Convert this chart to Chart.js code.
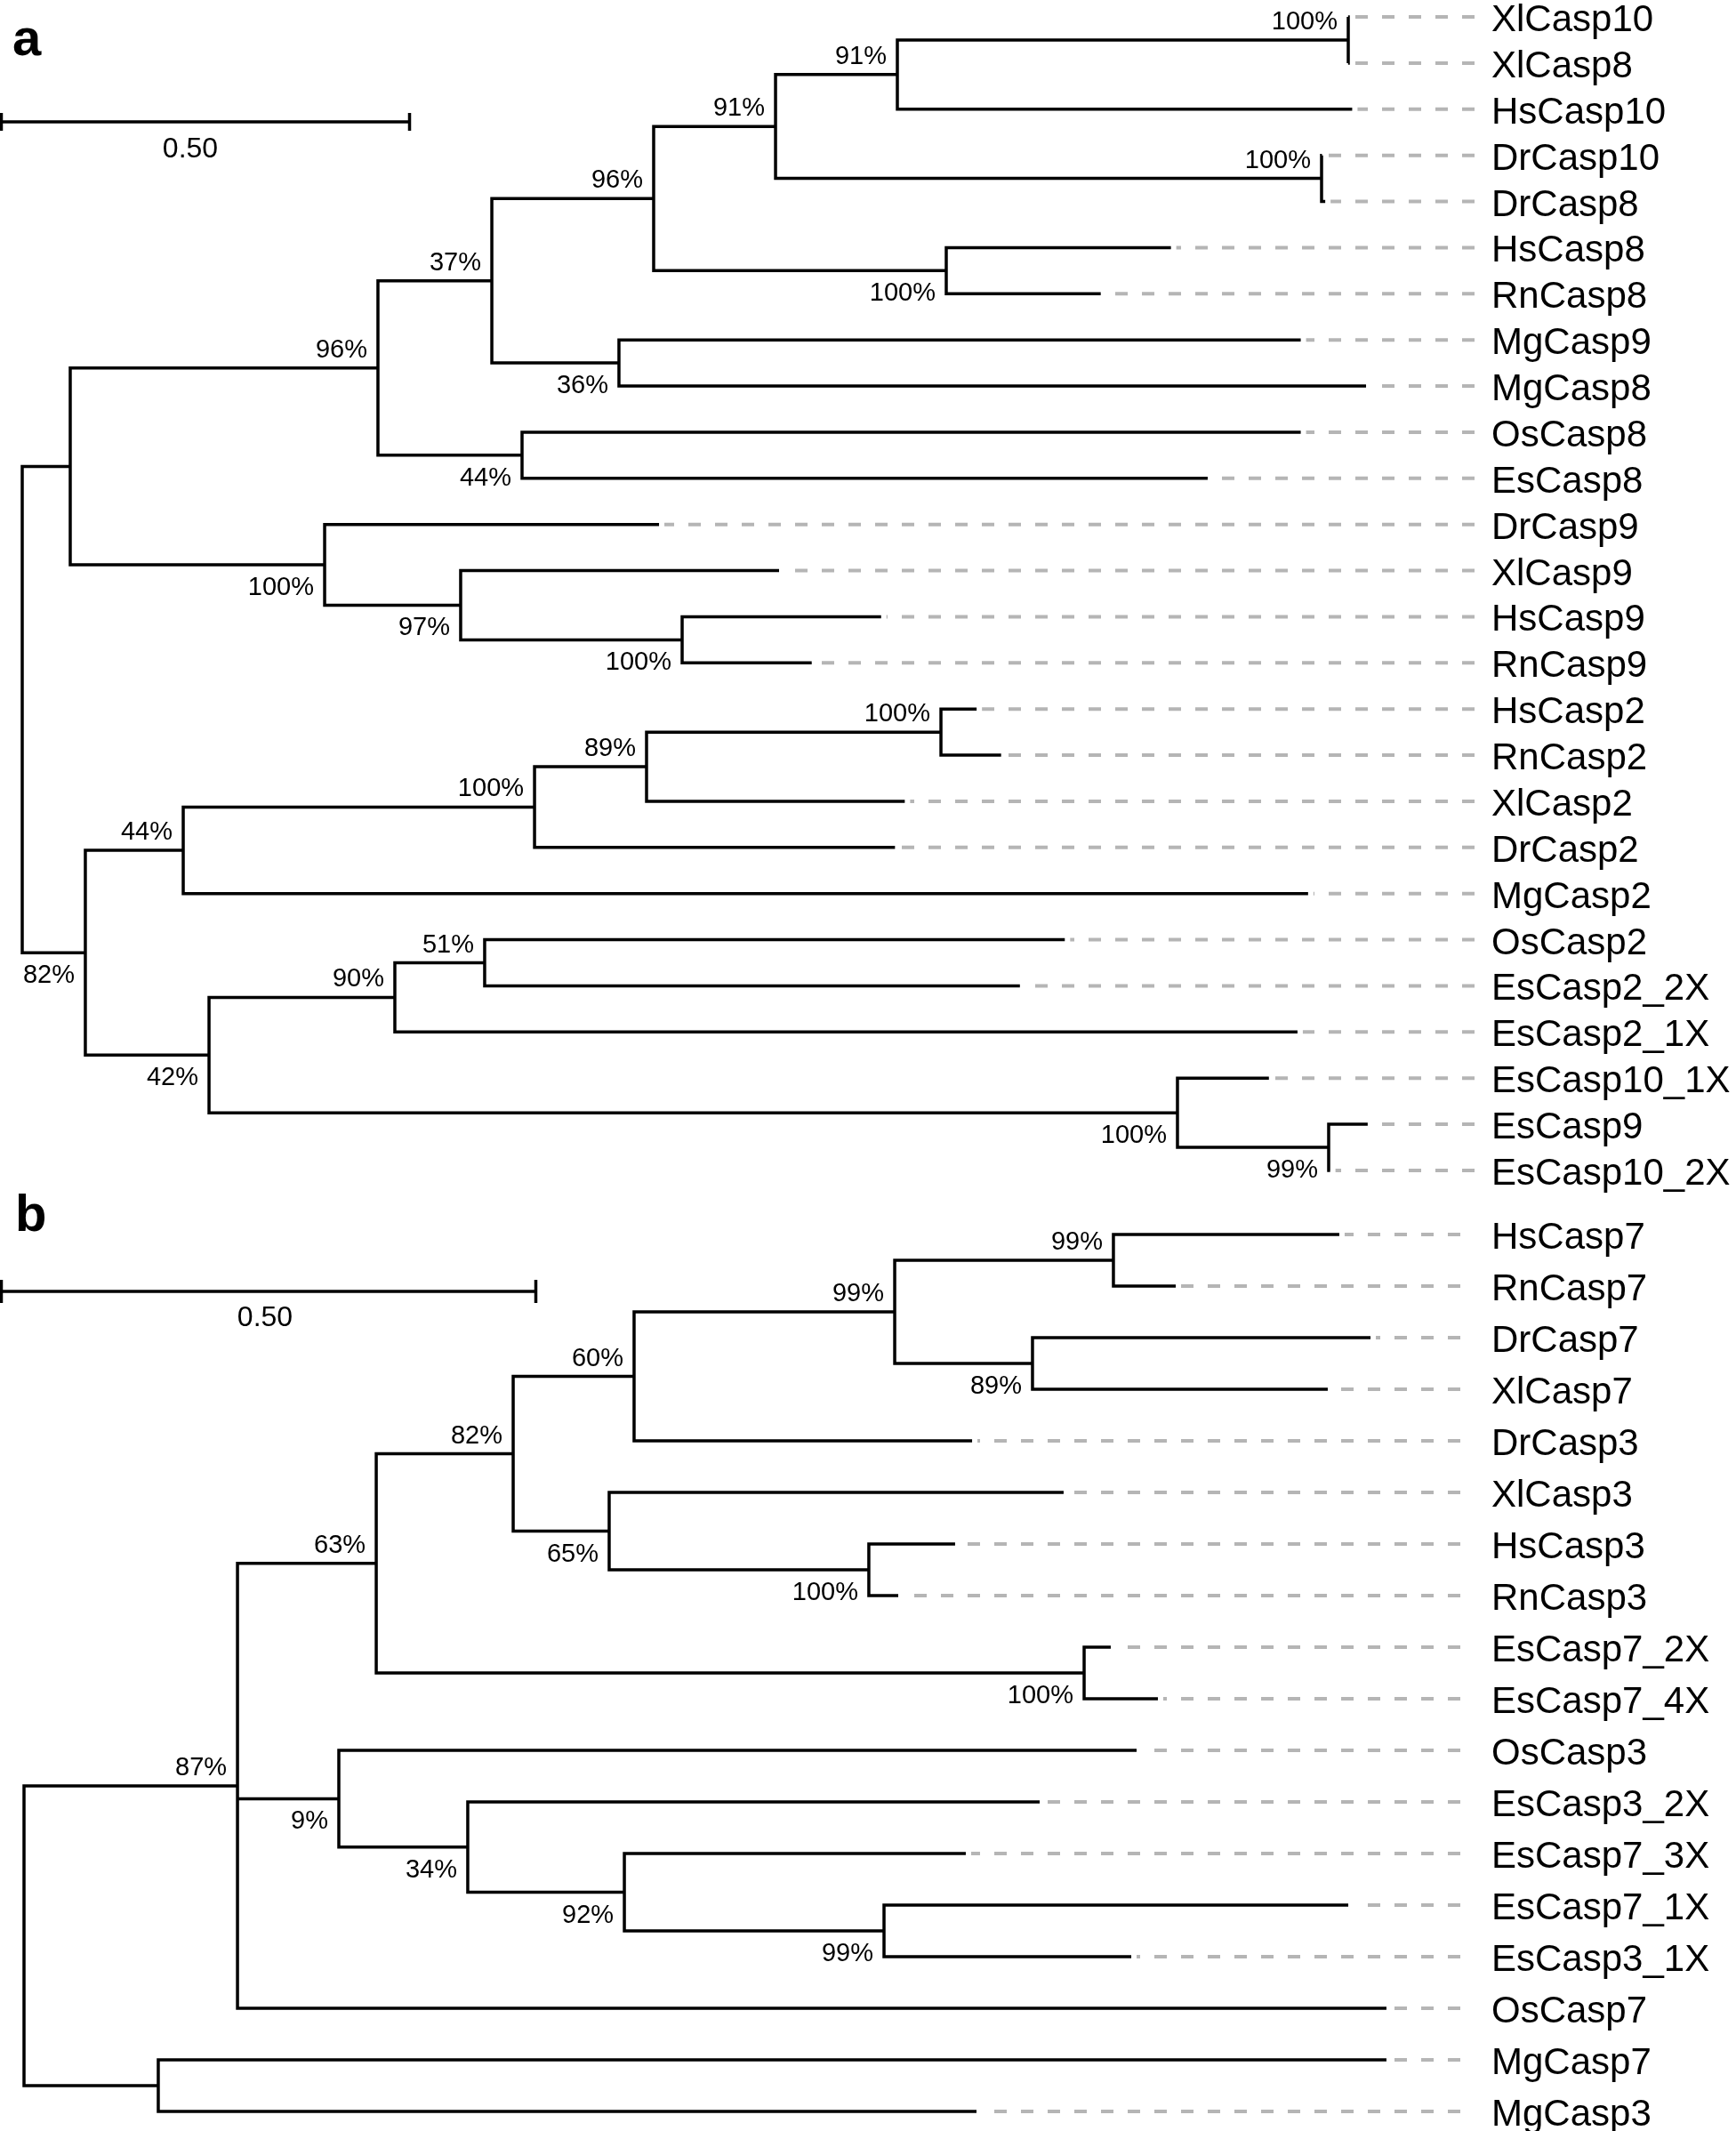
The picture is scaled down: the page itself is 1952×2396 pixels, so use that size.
<!DOCTYPE html>
<html><head><meta charset="utf-8">
<script src="https://cdn.jsdelivr.net/npm/chart.js@4.4.1/dist/chart.umd.min.js"></script>
<style>html,body{margin:0;padding:0;background:#fff}#wrap{width:1952px;height:2396px;position:relative}canvas{display:block}</style>
</head><body><div id="wrap"><canvas id="c" width="1952" height="2396"></canvas></div>
<script>
// ================= DATA : panel a =================
const aLeaves = ['XlCasp10','XlCasp8','HsCasp10','DrCasp10','DrCasp8','HsCasp8','RnCasp8','MgCasp9','MgCasp8','OsCasp8','EsCasp8','DrCasp9','XlCasp9','HsCasp9','RnCasp9','HsCasp2','RnCasp2','XlCasp2','DrCasp2','MgCasp2','OsCasp2','EsCasp2_2X','EsCasp2_1X','EsCasp10_1X','EsCasp9','EsCasp10_2X'];
// distance of each tip from the root (substitutions/site)
const aTipDist = [1.624,1.624,1.629,1.592,1.596,1.407,1.321,1.566,1.646,1.566,1.452,0.780,0.927,1.052,0.967,1.169,1.199,1.081,1.069,1.575,1.277,1.222,1.562,1.527,1.648,1.602];
const aNodeIds  = ['r','c1','c2','c3','c4','c5','c6','c7','c8','c9','c10','c11','c12','c13','c14','c15','c16','c17','c18','c19','c20','c21','c22','c23','c24'];
const aNodeDist = [0,0.0588,0.4357,0.5752,0.7734,0.9227,1.0719,1.6242,1.5915,1.1318,0.7309,0.6122,0.3704,0.5370,0.8083,0.0773,0.1972,0.6275,0.7647,1.1253,0.2288,0.4564,0.5664,1.4150,1.6002];
const aNodeKids = [['c1','c15'],['c2','c12'],['c3','c11'],['c4','c10'],['c5','c9'],['c6','c8'],['c7','HsCasp10'],['XlCasp10','XlCasp8'],['DrCasp10','DrCasp8'],['HsCasp8','RnCasp8'],['MgCasp9','MgCasp8'],['OsCasp8','EsCasp8'],['DrCasp9','c13'],['XlCasp9','c14'],['HsCasp9','RnCasp9'],['c16','c20'],['c17','MgCasp2'],['c18','DrCasp2'],['c19','XlCasp2'],['HsCasp2','RnCasp2'],['c21','c23'],['c22','EsCasp2_1X'],['OsCasp2','EsCasp2_2X'],['EsCasp10_1X','c24'],['EsCasp9','EsCasp10_2X']];
const aSupport  = ['','','96%','37%','96%','91%','91%','100%','100%','100%','36%','44%','100%','97%','100%','82%','44%','100%','89%','100%','42%','90%','51%','100%','99%'];
const aScaleValue = 0.50;

// ================= DATA : panel b =================
const bLeaves = ['HsCasp7','RnCasp7','DrCasp7','XlCasp7','DrCasp3','XlCasp3','HsCasp3','RnCasp3','EsCasp7_2X','EsCasp7_4X','OsCasp3','EsCasp3_2X','EsCasp7_3X','EsCasp7_1X','EsCasp3_1X','OsCasp7','MgCasp7','MgCasp3'];
const bTipDist = [1.2304,1.0774,1.2596,1.2196,0.8869,0.9725,0.8710,0.8178,1.0166,1.0607,1.0408,0.9501,0.8810,1.2388,1.0358,1.2745,1.2745,0.8910];
const bNodeIds  = ['r','mMg','m87','m63','m82','m60','m99a','m99b','m89','m65','m100c','m100d','m9','m34','m92','m99c'];
const bNodeDist = [0,0.1256,0.1997,0.3295,0.4576,0.5707,0.8145,1.0191,0.9434,0.5474,0.7903,0.9917,0.2945,0.4151,0.5616,0.8045];
const bNodeKids = [['m87','mMg'],['MgCasp7','MgCasp3'],['m63','m9','OsCasp7'],['m82','m100d'],['m60','m65'],['m99a','DrCasp3'],['m99b','m89'],['HsCasp7','RnCasp7'],['DrCasp7','XlCasp7'],['XlCasp3','m100c'],['HsCasp3','RnCasp3'],['EsCasp7_2X','EsCasp7_4X'],['OsCasp3','m34'],['EsCasp3_2X','m92'],['EsCasp7_3X','m99c'],['EsCasp7_1X','EsCasp3_1X']];
const bSupport  = ['','','87%','63%','82%','60%','99%','99%','89%','65%','100%','100%','9%','34%','92%','99%'];
const bScaleValue = 0.50;

// ================= LAYOUT (pixels / styles) =================
const W = 1952, H = 2396;
const layout = {
  a: {xId:'x', yId:'y', rootPx:25, unitPx:918, rowTopPx:19, rowStepPx:51.88, dashEndPx:1658, labelPx:1677,
      barPx:[1.5,137], tickHalf:10, scaleTextPx:[214,177], letter:['a',14,62], aboveOverride:['c8']},
  b: {xId:'x2', yId:'y2', rootPx:27, unitPx:1202, rowTopPx:1388, rowStepPx:58.0, dashEndPx:1642, labelPx:1677,
      barPx:[1.5,1452], tickHalf:13, scaleTextPx:[298,1491], letter:['b',17,1384], aboveOverride:[]}
};
const FONT = '"Liberation Sans", Arial, Helvetica, sans-serif';
const LINE_W = 3.5, DASH_W = 4, DASH_COLOR = '#b5b5b5';

const panels = [
  {L:layout.a, leaves:aLeaves, tips:aTipDist, ids:aNodeIds, dist:aNodeDist, kids:aNodeKids, sup:aSupport, scaleValue:aScaleValue},
  {L:layout.b, leaves:bLeaves, tips:bTipDist, ids:bNodeIds, dist:bNodeDist, kids:bNodeKids, sup:bSupport, scaleValue:bScaleValue}
];

function computeTree(P) {
  const d = {}, y = {}, parent = {};
  P.leaves.forEach((n, i) => { d[n] = P.tips[i]; y[n] = i; });
  P.ids.forEach((id, k) => { d[id] = P.dist[k]; P.kids[k].forEach(c => parent[c] = id); });
  function getY(id) {
    if (id in y) return y[id];
    const ks = P.kids[P.ids.indexOf(id)];
    const v = (getY(ks[0]) + getY(ks[ks.length - 1])) / 2;
    y[id] = v; return v;
  }
  P.ids.forEach(getY);
  P.d = d; P.y = y; P.parent = parent;
}
panels.forEach(computeTree);

function ds(points, color, width, dash, P) {
  return {data: points.map(([x, y]) => ({x, y})), showLine: true, borderColor: color, borderWidth: width,
    borderDash: dash || [], pointRadius: 0, pointHoverRadius: 0, fill: false, tension: 0,
    xAxisID: P.L.xId, yAxisID: P.L.yId, borderJoinStyle: 'miter', borderCapStyle: 'butt'};
}

const datasets = [];
panels.forEach(P => {
  const L = P.L;
  const xv = px => (px - L.rootPx) / L.unitPx;
  const yv = py => (py - L.rowTopPx) / L.rowStepPx;
  // dashed guides, drawn from the label side toward the tip
  P.leaves.forEach((n, i) => {
    datasets.push(ds([[xv(L.dashEndPx), i], [P.tips[i] + 6 / L.unitPx, i]], DASH_COLOR, DASH_W, [14, 16], P));
  });
});
panels.forEach(P => {
  const L = P.L;
  const xv = px => (px - L.rootPx) / L.unitPx;
  const yv = py => (py - L.rowTopPx) / L.rowStepPx;
  P.ids.forEach((id, k) => {
    const ks = P.kids[k], nd = P.dist[k];
    const f = ks[0], l = ks[ks.length - 1];
    datasets.push(ds([[P.d[f], P.y[f]], [nd, P.y[f]], [nd, P.y[l]], [P.d[l], P.y[l]]], '#000', LINE_W, null, P));
    for (let j = 1; j < ks.length - 1; j++) {
      const m = ks[j];
      datasets.push(ds([[nd, P.y[m]], [P.d[m], P.y[m]]], '#000', LINE_W, null, P));
    }
  });
  // scale bar
  const s = xv(L.barPx[0]), by = yv(L.barPx[1]), th = L.tickHalf / L.rowStepPx;
  datasets.push(ds([[s, by], [s + P.scaleValue, by]], '#000', LINE_W, null, P));
  datasets.push(ds([[s, by - th], [s, by + th]], '#000', LINE_W, null, P));
  datasets.push(ds([[s + P.scaleValue, by - th], [s + P.scaleValue, by + th]], '#000', LINE_W, null, P));
});

const textPlugin = {
  id: 'treeText',
  afterDatasetsDraw(chart) {
    const ctx = chart.ctx;
    ctx.save();
    ctx.fillStyle = '#000';
    panels.forEach(P => {
      const L = P.L, xs = chart.scales[L.xId], ys = chart.scales[L.yId];
      // leaf labels
      ctx.font = '42px ' + FONT; ctx.textAlign = 'left'; ctx.textBaseline = 'alphabetic';
      P.leaves.forEach((n, i) => ctx.fillText(n, L.labelPx, ys.getPixelForValue(i) + 16));
      // support values
      ctx.font = '29px ' + FONT; ctx.textAlign = 'right';
      P.ids.forEach((id, k) => {
        if (!P.sup[k]) return;
        const par = P.parent[id];
        const first = par ? P.kids[P.ids.indexOf(par)][0] === id : true;
        const above = first || L.aboveOverride.includes(id);
        const px = xs.getPixelForValue(P.dist[k]) - 12;
        const py = ys.getPixelForValue(P.y[id]);
        ctx.fillText(P.sup[k], px, above ? py - 12 : py + 34);
      });
      // scale bar value
      ctx.font = '32px ' + FONT; ctx.textAlign = 'center';
      ctx.fillText(P.scaleValue.toFixed(2), L.scaleTextPx[0], L.scaleTextPx[1]);
      // panel letter
      ctx.font = 'bold 58px ' + FONT; ctx.textAlign = 'left';
      ctx.fillText(L.letter[0], L.letter[1], L.letter[2]);
    });
    ctx.restore();
  }
};

function axis(L, which) {
  if (which === 'x') return {type: 'linear', display: false, bounds: 'data', min: (0 - L.rootPx) / L.unitPx, max: (W - L.rootPx) / L.unitPx};
  return {type: 'linear', display: false, bounds: 'data', reverse: true, min: (0 - L.rowTopPx) / L.rowStepPx, max: (H - L.rowTopPx) / L.rowStepPx};
}

new Chart(document.getElementById('c'), {
  type: 'scatter',
  data: {datasets},
  options: {
    responsive: false, animation: false, devicePixelRatio: 1, events: [],
    layout: {padding: 0},
    plugins: {legend: {display: false}, tooltip: {enabled: false}},
    scales: {
      x: axis(layout.a, 'x'), y: axis(layout.a, 'y'),
      x2: Object.assign({axis: 'x'}, axis(layout.b, 'x')),
      y2: Object.assign({axis: 'y'}, axis(layout.b, 'y'))
    }
  },
  plugins: [textPlugin]
});
</script>
</body></html>
